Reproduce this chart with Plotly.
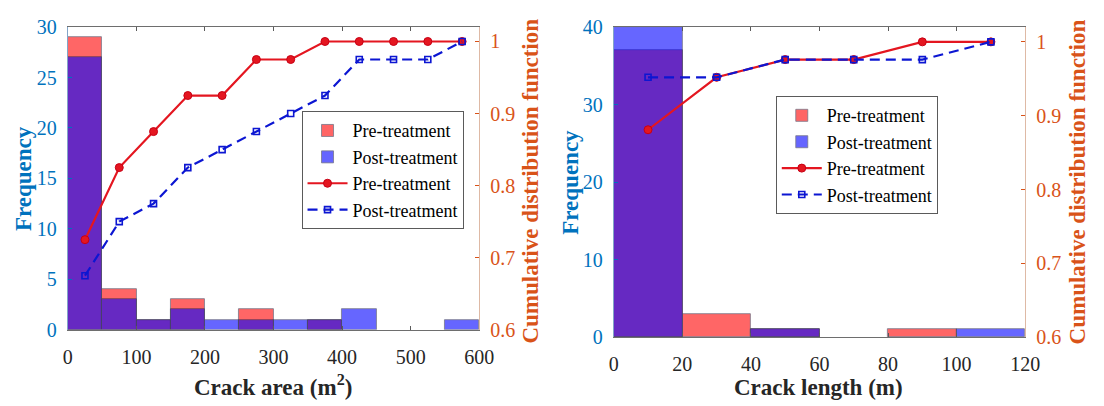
import plotly.graph_objects as go

# ---- Crack area: histogram (50 m^2 bins) and cumulative distribution ----
area_bin_width = 50
area_pre_freq = [29, 4, 1, 3, 0, 2, 0, 1, 0, 0, 0, 0]
area_post_freq = [27, 3, 1, 2, 1, 1, 1, 1, 2, 0, 0, 1]
area_pre_cdf = [0.725, 0.825, 0.875, 0.925, 0.925, 0.975, 0.975, 1.0, 1.0, 1.0, 1.0, 1.0]
area_post_cdf = [0.675, 0.75, 0.775, 0.825, 0.85, 0.875, 0.9, 0.925, 0.975, 0.975, 0.975, 1.0]
area_xticks = [0, 100, 200, 300, 400, 500, 600]
area_yticks = [0, 5, 10, 15, 20, 25, 30]

# ---- Crack length: histogram (20 m bins) and cumulative distribution ----
length_bin_width = 20
length_pre_freq = [37, 3, 1, 0, 1, 0]
length_post_freq = [40, 0, 1, 0, 0, 1]
length_pre_cdf = [0.881, 0.952, 0.976, 0.976, 1.0, 1.0]
length_post_cdf = [0.952, 0.952, 0.976, 0.976, 0.976, 1.0]
length_xticks = [0, 20, 40, 60, 80, 100, 120]
length_yticks = [0, 10, 20, 30, 40]

cdf_ticks = [0.6, 0.7, 0.8, 0.9, 1.0]

W, H = 1104, 406
SERIF = "Liberation Serif"
FREQ_COLOR = "rgb(0,114,189)"
CDF_COLOR = "rgb(217,83,25)"
TEXT_DARK = "rgb(38,38,38)"
PRE_LINE = "rgb(228,22,32)"
POST_LINE = "rgb(12,22,210)"


def px(x):
    return x / W


def py(y):
    return 1 - y / H


def centers(width, n):
    return [width * (i + 0.5) for i in range(n)]


fig = go.Figure()


def add_panel(xa, ya_f, ya_c, legend, width, pre_f, post_f, pre_c, post_c):
    xs = centers(width, len(pre_f))

    def outline(freq):
        # empty bins get no outline so nothing is drawn along the axis
        return dict(color="rgb(30,30,60)", width=[0.8 if f > 0 else 0 for f in freq])

    fig.add_trace(go.Bar(x=xs, y=pre_f, width=width, name="Pre-treatment",
                         marker=dict(color="rgb(255,0,0)", line=outline(pre_f)),
                         opacity=0.6, xaxis=xa, yaxis=ya_f, legend=legend))
    fig.add_trace(go.Bar(x=xs, y=post_f, width=width, name="Post-treatment",
                         marker=dict(color="rgb(0,0,255)", line=outline(post_f)),
                         opacity=0.6, xaxis=xa, yaxis=ya_f, legend=legend))
    fig.add_trace(go.Scatter(x=xs, y=pre_c, mode="lines+markers", name="Pre-treatment",
                             line=dict(color=PRE_LINE, width=2.2),
                             marker=dict(symbol="circle", size=8, color=PRE_LINE,
                                         line=dict(color="rgb(200,0,20)", width=1)),
                             xaxis=xa, yaxis=ya_c, legend=legend))
    fig.add_trace(go.Scatter(x=xs, y=post_c, mode="lines+markers", name="Post-treatment",
                             line=dict(color=POST_LINE, width=2.2, dash="10px,6px"),
                             marker=dict(symbol="square-open", size=6, color=POST_LINE,
                                         line=dict(width=1.6)),
                             xaxis=xa, yaxis=ya_c, legend=legend))


add_panel("x", "y", "y2", "legend", area_bin_width,
          area_pre_freq, area_post_freq, area_pre_cdf, area_post_cdf)
add_panel("x2", "y3", "y4", "legend2", length_bin_width,
          length_pre_freq, length_post_freq, length_pre_cdf, length_post_cdf)

tick_font_x = dict(family=SERIF, size=20, color=TEXT_DARK)
tick_font_f = dict(family=SERIF, size=20, color=FREQ_COLOR)
tick_font_c = dict(family=SERIF, size=20, color=CDF_COLOR)


def xaxis_cfg(domain, rng, ticks, anchor):
    return dict(domain=domain, range=rng, tickvals=ticks, ticks="inside", ticklen=4,
                tickcolor="rgb(90,90,90)", linecolor="rgb(110,110,110)", linewidth=1,
                mirror="ticks", showgrid=False, zeroline=False, anchor=anchor,
                tickfont=tick_font_x, ticklabelstandoff=9)


def freq_cfg(domain, rng, ticks, anchor):
    return dict(domain=domain, range=rng, tickvals=ticks, ticks="inside", ticklen=4,
                tickcolor=FREQ_COLOR, linecolor="rgb(130,165,200)", linewidth=1,
                showgrid=False, zeroline=False, anchor=anchor,
                tickfont=tick_font_f, ticklabelstandoff=6)


def cdf_cfg(overlay, anchor):
    return dict(overlaying=overlay, side="right", range=[0.6, 1.02], tickvals=cdf_ticks,
                ticktext=["0.6", "0.7", "0.8", "0.9", "1"], ticks="inside", ticklen=4,
                tickcolor=CDF_COLOR, linecolor="rgb(222,185,165)", linewidth=1,
                showgrid=False, zeroline=False, anchor=anchor,
                tickfont=tick_font_c, ticklabelstandoff=6)


legend_common = dict(bgcolor="white", bordercolor="rgb(90,90,90)", borderwidth=1,
                     font=dict(family=SERIF, size=18, color="black"),
                     itemwidth=40, tracegroupgap=0, traceorder="normal",
                     xanchor="left", yanchor="top", xref="paper", yref="paper")

title_font_x = dict(family=SERIF, size=23, color=TEXT_DARK)
title_font_f = dict(family=SERIF, size=23, color=FREQ_COLOR)
title_font_c = dict(family=SERIF, size=23, color=CDF_COLOR)


def title_ann(text, x, y, font, angle=0):
    return dict(text="<b>" + text + "</b>", x=px(x), y=py(y), xref="paper", yref="paper",
                showarrow=False, xanchor="center", yanchor="middle",
                textangle=angle, font=font)


fig.update_layout(
    width=W, height=H,
    margin=dict(l=0, r=0, t=0, b=0),
    paper_bgcolor="white", plot_bgcolor="white",
    barmode="overlay", bargap=0,
    xaxis=xaxis_cfg([px(64), px(483)], [0, 600], area_xticks, "y"),
    yaxis=freq_cfg([py(337), py(17)], [0, 30], area_yticks, "x"),
    yaxis2=cdf_cfg("y", "x"),
    xaxis2=xaxis_cfg([px(620), px(1039)], [0, 120], length_xticks, "y3"),
    yaxis3=freq_cfg([py(345), py(17)], [0, 40], length_yticks, "x2"),
    yaxis4=cdf_cfg("y3", "x2"),
    legend=dict(x=px(302), y=py(106), **legend_common),
    legend2=dict(x=px(785), y=py(90), **legend_common),
    annotations=[
        title_ann("Crack area (m<sup>2</sup>)", 273, 396, title_font_x),
        title_ann("Frequency", 19, 177, title_font_f, -90),
        title_ann("Cumulative distribution function", 535, 180, title_font_c, -90),
        title_ann("Crack length (m)", 829, 398, title_font_x),
        title_ann("Frequency", 576, 181, title_font_f, -90),
        title_ann("Cumulative distribution function", 1092, 181, title_font_c, -90),
    ],
)

fig.write_html("out.html")
